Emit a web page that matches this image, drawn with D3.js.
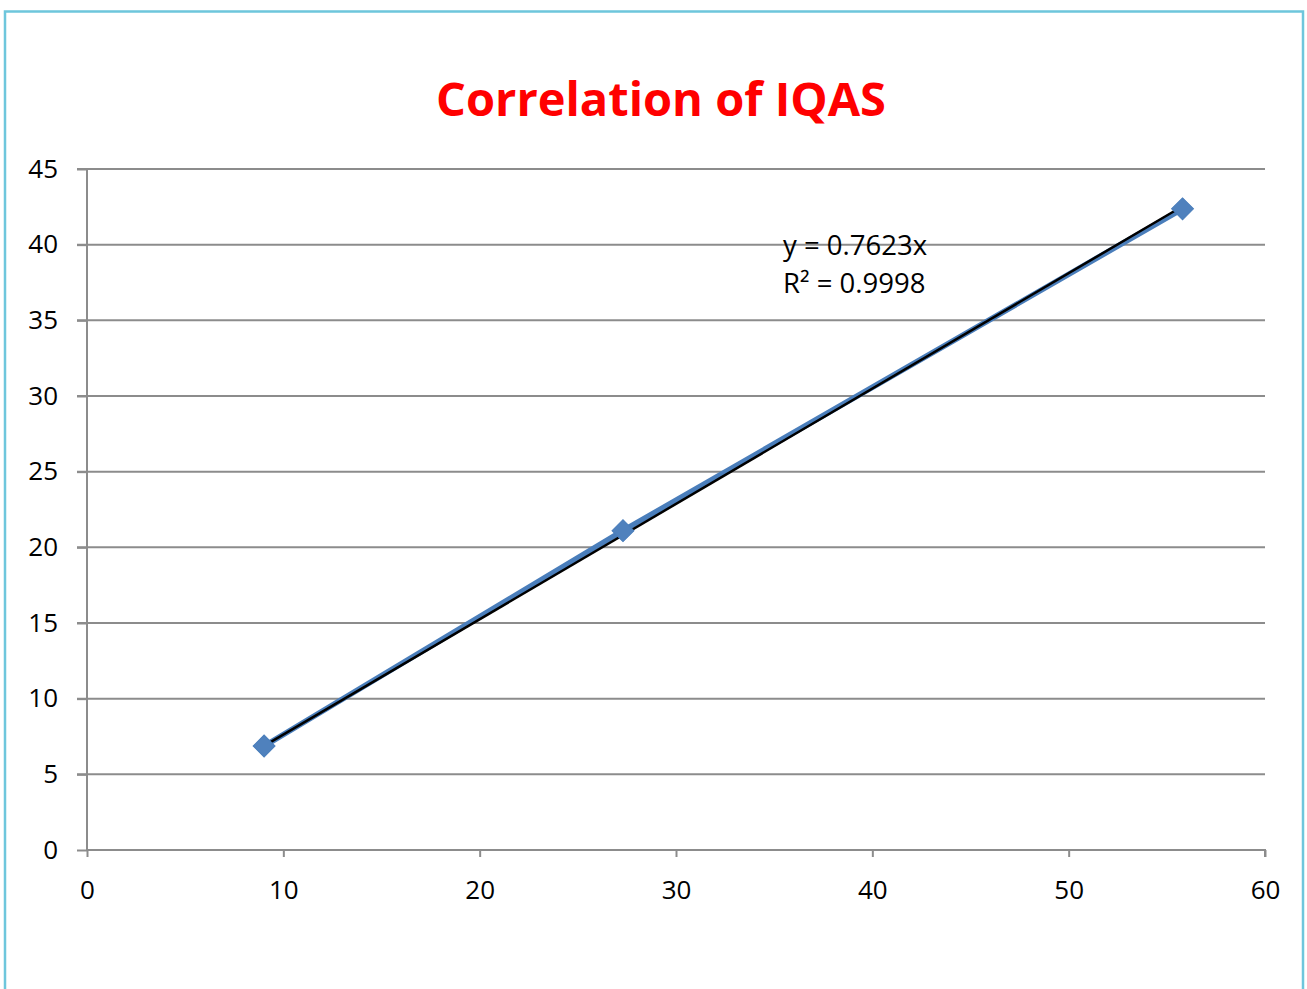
<!DOCTYPE html>
<html>
<head>
<meta charset="utf-8">
<script src="https://cdn.jsdelivr.net/npm/d3@7"></script>
<style>
body { margin: 0; background: #fff; }
svg text { font-family: "Open Sans", "Liberation Sans", sans-serif; }
</style>
</head>
<body>
<script>
// data
let xVals = [9.02, 27.3, 55.8]
let yVals = [6.87, 21.1, 42.37]
let slope = 0.7623
let xTicks = [0, 10, 20, 30, 40, 50, 60]
let yTicks = [0, 5, 10, 15, 20, 25, 30, 35, 40, 45]

let W = 1307, H = 989
let svg = d3.select('body').append('svg')
    .attr('width', W)
    .attr('height', H)

// outer border (bottom edge runs off the picture)
svg.append('rect')
    .attr('x', 5).attr('y', 11.5)
    .attr('width', 1298).attr('height', 1000)
    .attr('fill', 'none')
    .attr('stroke', '#6ec6dc')
    .attr('stroke-width', 2.5)

svg.append('text')
    .attr('x', 661).attr('y', 116)
    .attr('text-anchor', 'middle')
    .attr('font-size', 47)
    .attr('font-weight', 'bold')
    .attr('fill', '#ff0000')
    .text('Correlation of IQAS')

let x = d3.scaleLinear().domain([0, 60]).range([87, 1265])
let y = d3.scaleLinear().domain([0, 45]).range([850, 169])

// gridlines
svg.append('g').selectAll('line')
    .data(yTicks.filter(d => d > 0))
    .enter().append('line')
    .attr('x1', 77).attr('x2', 1265)
    .attr('y1', d => y(d)).attr('y2', d => y(d))
    .attr('stroke', '#8c8c8c')
    .attr('stroke-width', 2)

let yAxis = svg.append('g')
    .attr('transform', 'translate(87,0)')
    .call(d3.axisLeft(y).tickValues(yTicks).tickSize(10).tickPadding(19))
let xAxis = svg.append('g')
    .attr('transform', 'translate(0,850)')
    .call(d3.axisBottom(x).tickValues(xTicks).tickSize(7).tickPadding(24))

for (let ax of [xAxis, yAxis]) {
    ax.select('.domain').attr('stroke', '#8c8c8c').attr('stroke-width', 2)
    ax.selectAll('.tick line').attr('stroke', '#8c8c8c').attr('stroke-width', 2)
    ax.selectAll('.tick text').attr('font-size', 26).attr('fill', '#000')
        .style('font-family', '"Open Sans", "Liberation Sans", sans-serif')
}
xAxis.select('.domain').attr('d', 'M87,0H1265V7')
yAxis.select('.domain').attr('d', 'M0,169V850')

let pts = xVals.map((v, i) => [v, yVals[i]])

// data line
svg.append('path')
    .datum(pts)
    .attr('fill', 'none')
    .attr('stroke', '#4a7ebb')
    .attr('stroke-width', 5.5)
    .attr('d', d3.line().x(d => x(d[0])).y(d => y(d[1])))

// linear trendline through origin
let tx = [xVals[0], xVals[xVals.length - 1]]
svg.append('line')
    .attr('x1', x(tx[0])).attr('y1', y(slope * tx[0]))
    .attr('x2', x(tx[1])).attr('y2', y(slope * tx[1]))
    .attr('stroke', '#000')
    .attr('stroke-width', 2.5)

// diamond markers
svg.append('g').selectAll('path')
    .data(pts)
    .enter().append('path')
    .attr('d', d3.symbol(d3.symbolSquare, 240)())
    .attr('transform', d => `translate(${x(d[0])},${y(d[1])}) rotate(45)`)
    .attr('fill', '#4f81bd')
    .attr('stroke', '#4a7ebb')
    .attr('stroke-width', 1)

svg.append('text')
    .attr('x', 783).attr('y', 255)
    .attr('font-size', 27.5)
    .text('y = 0.7623x')
svg.append('text')
    .attr('x', 783).attr('y', 293)
    .attr('font-size', 27.5)
    .text('R² = 0.9998')
</script>
</body>
</html>
